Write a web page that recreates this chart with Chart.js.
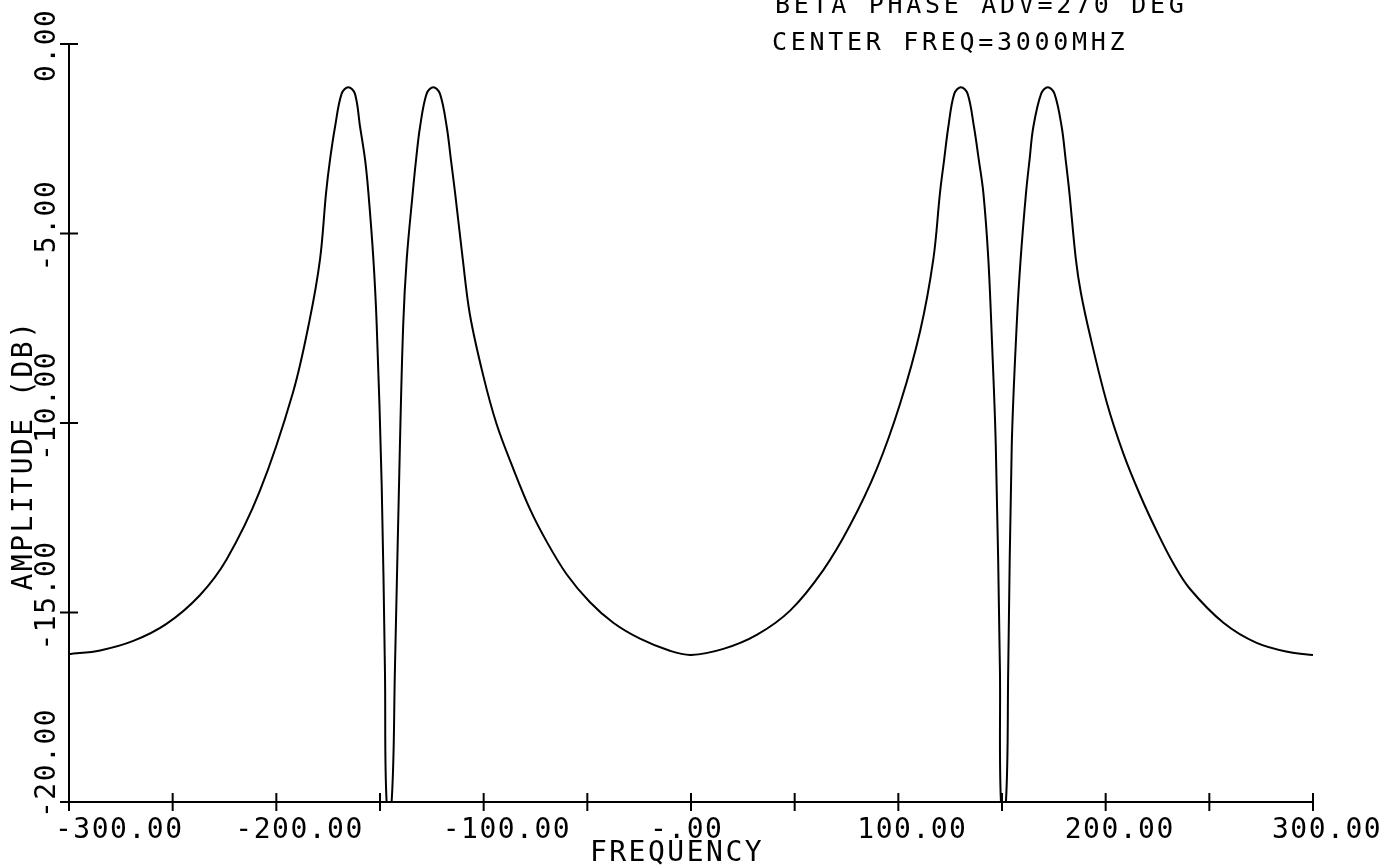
<!DOCTYPE html>
<html>
<head>
<meta charset="utf-8">
<script src="https://cdn.jsdelivr.net/npm/chart.js@4/dist/chart.umd.min.js"></script>
<style>
html,body{margin:0;padding:0;background:#fff;}
#wrap{width:1398px;height:868px;}
</style>
</head>
<body>
<div id="wrap"><canvas id="plot" width="1398" height="868"></canvas></div>
<script>
// frequency offset (MHz) and amplitude (dB)
const freq = [
-300,-285,-269,-253,-237,-224,-208,-192,-184,-178.9,-176,-174.1,-171.7,-168.5,-165.3,-162.1,-159.6,-157.2,-155.6,-153.2,-151.6,-149.2,-147.6,-146.8,
-144.4,-142.8,-140.4,-138.8,-137.1,-134.2,-132.6,-130.7,-127.5,-124.3,-121.1,-117.8,-115.8,-113.8,-110.1,-106.6,-100.2,-93.7,-85.7,-77.6,-69.6,-60,-48.7,-37.5,-24.6,-10.2,0,
15.6,31.7,47.8,63.8,76.7,89.6,100.8,110.5,116.9,120.1,122.1,124.1,127,130.2,133.4,136.5,138.8,141,143.4,145.2,147,149,149.5,
151.9,153,154.7,157.1,159,161.6,163.3,165.1,168.9,172.1,175.3,178.8,180.7,182.5,185.6,188,192.5,200.5,208.5,216.6,224.6,232.6,240.7,256.8,272.8,288.9,300
];
const ampDb = [
-16.1,-16.0,-15.75,-15.3,-14.55,-13.6,-11.8,-9.2,-7.3,-5.67,-3.92,-3.05,-2.19,-1.31,-1.14,-1.31,-2.19,-3.05,-3.92,-5.67,-7.4,-11.6,-16.6,-20,
-20,-16.5,-10.6,-7.4,-5.67,-3.92,-3.05,-2.19,-1.31,-1.14,-1.31,-2.19,-3.05,-3.92,-5.67,-7.15,-8.75,-10.04,-11.21,-12.28,-13.13,-13.99,-14.73,-15.27,-15.69,-16.01,-16.12,
-15.96,-15.59,-14.95,-13.88,-12.7,-11.21,-9.5,-7.58,-5.67,-3.92,-3.05,-2.19,-1.31,-1.14,-1.31,-2.19,-3.05,-3.92,-5.67,-7.9,-10.6,-16.5,-20,
-20,-16.5,-10.6,-7.4,-5.67,-3.92,-3.05,-2.19,-1.31,-1.14,-1.31,-2.19,-3.05,-3.92,-5.67,-6.55,-7.7,-9.45,-10.8,-11.9,-12.85,-13.7,-14.38,-15.27,-15.8,-16.05,-16.12
];

const xTicks = [-300,-250,-200,-150,-100,-50,0,50,100,150,200,250,300];
const xLabelValues = [-300,-200,-100,0,100,200,300];
const xLabels = ['-300.00','-200.00','-100.00','-.00','100.00','200.00','300.00'];
const yTicks = [0,-5,-10,-15,-20];
const yLabels = ['0.00','-5.00','-10.00','-15.00','-20.00'];
const xTitle = 'FREQUENCY';
const yTitle = 'AMPLITUDE (DB)';
const noteLines = ['BETA PHASE ADV=270 DEG','CENTER FREQ=3000MHZ'];

const plotterFont = '"DejaVu Sans Mono", "Liberation Mono", monospace';

const axesPlugin = {
  id:'plotterAxes',
  afterDraw(chart){
    const ctx = chart.ctx;
    const xs = chart.scales.x;
    const ys = chart.scales.y;
    const a = chart.chartArea;
    ctx.save();
    ctx.strokeStyle = '#000';
    ctx.fillStyle = '#000';
    ctx.lineWidth = 2;

    // axis lines
    ctx.beginPath();
    ctx.moveTo(a.left, a.top);
    ctx.lineTo(a.left, a.bottom + 9);
    ctx.moveTo(a.left - 9, a.bottom);
    ctx.lineTo(a.right, a.bottom);
    ctx.stroke();

    // ticks cross the axis
    ctx.beginPath();
    xTicks.forEach(v=>{
      const px = xs.getPixelForValue(v);
      ctx.moveTo(px, a.bottom - 9);
      ctx.lineTo(px, a.bottom + 9);
    });
    yTicks.forEach(v=>{
      const py = ys.getPixelForValue(v);
      ctx.moveTo(a.left - 9, py);
      ctx.lineTo(a.left + 9, py);
    });
    ctx.stroke();

    // x tick labels
    ctx.font = '28px ' + plotterFont;
    ctx.letterSpacing = '1.5px';
    ctx.textAlign = 'left';
    ctx.textBaseline = 'alphabetic';
    xLabelValues.forEach((v,i)=>{
      const px = xs.getPixelForValue(v);
      const off = i === 0 ? -14 : -41;
      ctx.fillText(xLabels[i], px + off, a.bottom + 36);
    });

    // y tick labels, turned
    yTicks.forEach((v,i)=>{
      const py = ys.getPixelForValue(v);
      const off = i === yTicks.length - 1 ? 16 : 38;
      ctx.save();
      ctx.translate(a.left - 14, py + off);
      ctx.rotate(-Math.PI/2);
      ctx.fillText(yLabels[i], 0, 0);
      ctx.restore();
    });

    // axis titles
    ctx.letterSpacing = '2.5px';
    ctx.textAlign = 'center';
    ctx.fillText(xTitle, 677, a.bottom + 59);
    ctx.save();
    ctx.translate(32, 455);
    ctx.rotate(-Math.PI/2);
    ctx.fillText(yTitle, 0, 0);
    ctx.restore();

    // run notes
    ctx.font = '25px ' + plotterFont;
    ctx.letterSpacing = '3.7px';
    ctx.textAlign = 'left';
    ctx.fillText(noteLines[0], 775, 13);
    ctx.fillText(noteLines[1], 772, 50);

    ctx.restore();
  }
};

const plotChart = new Chart(
document.getElementById('plot'),
{
type:'scatter',
data:{
datasets:[{
label:'Amplitude',
data:freq.map((f,i)=>({x:f,y:ampDb[i]})),
showLine:true,
borderColor:'#000',
borderWidth:2,
pointRadius:0,
tension:0.35
}]
},
options:{
responsive:false,
animation:false,
layout:{padding:{left:69,right:85,top:44,bottom:66}},
scales:{
x:{type:'linear',min:-300,max:300,display:false},
y:{type:'linear',min:-20,max:0,display:false}
},
plugins:{
legend:{display:false},
tooltip:{enabled:false}
}
},
plugins:[axesPlugin]
}
);
</script>
</body>
</html>
